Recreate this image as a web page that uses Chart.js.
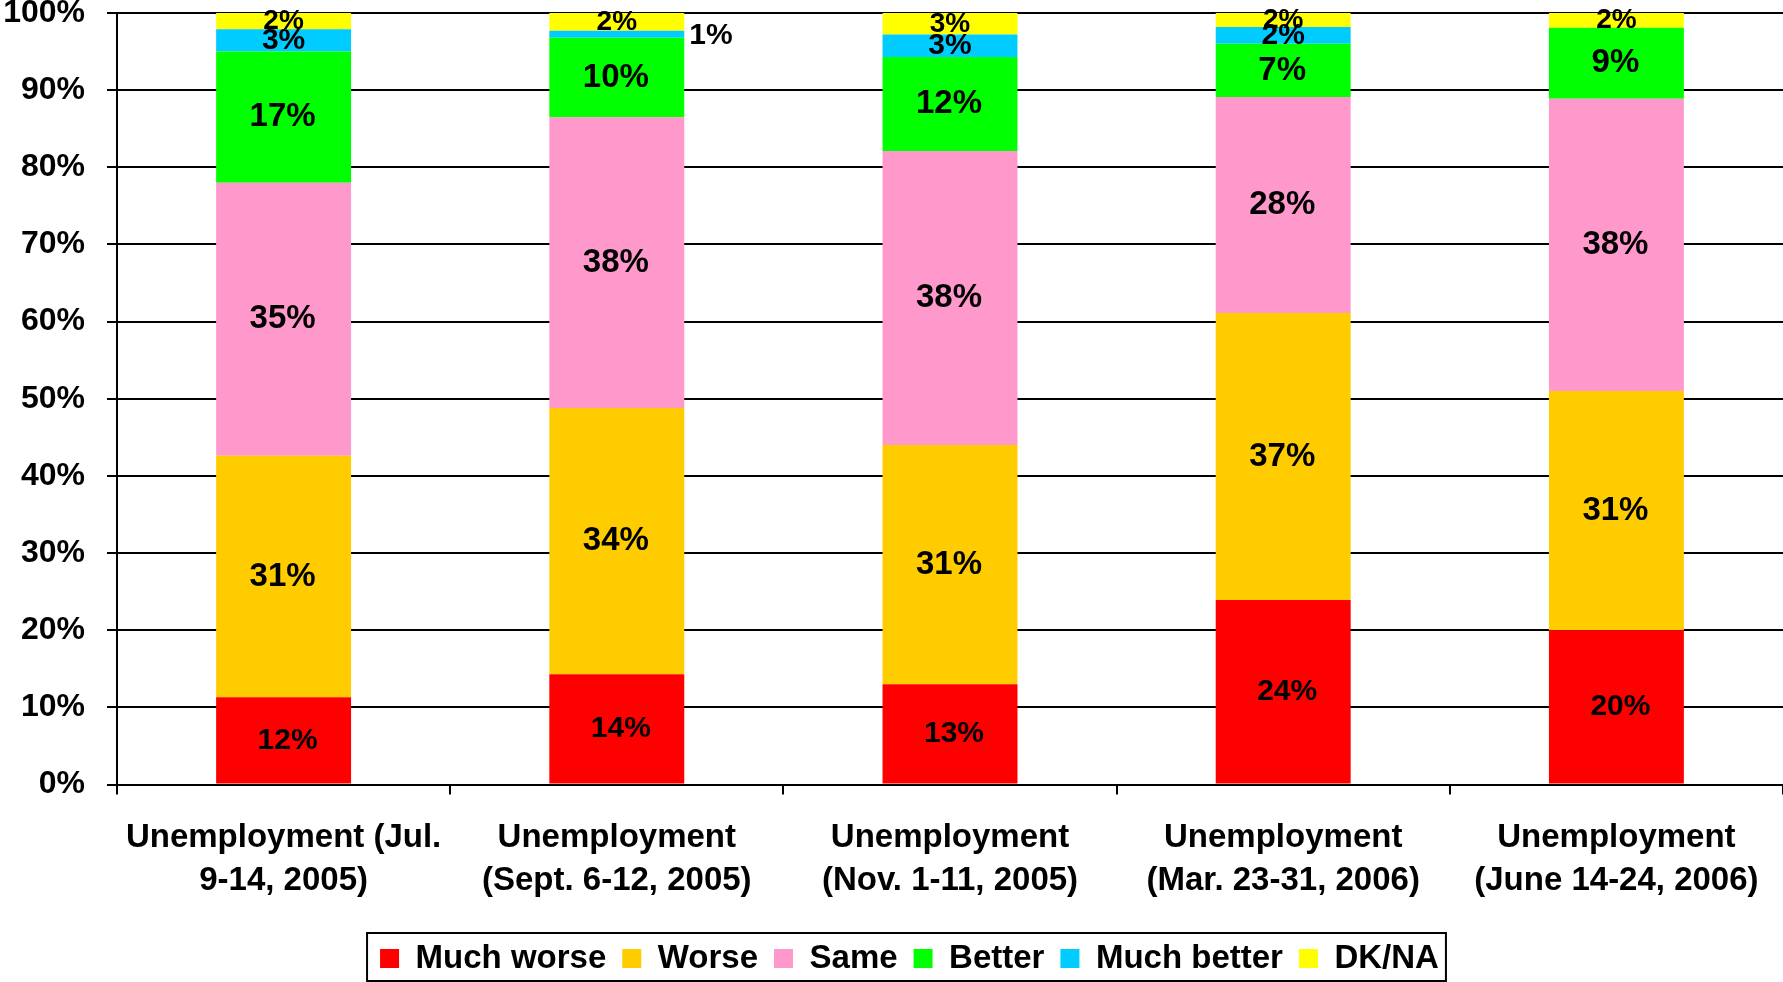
<!DOCTYPE html>
<html><head><meta charset="utf-8">
<script src="https://cdn.jsdelivr.net/npm/chart.js@4.4.1/dist/chart.umd.min.js"></script>
<style>html,body{margin:0;padding:0;background:#fff;} #wrap{width:1783px;height:982px;}</style>
</head><body><div id="wrap"><canvas id="c" width="1783" height="982"></canvas></div>
<script>
// ---- data ----
const categories = [
  ['Unemployment (Jul.', '9-14, 2005)'],
  ['Unemployment', '(Sept. 6-12, 2005)'],
  ['Unemployment', '(Nov. 1-11, 2005)'],
  ['Unemployment', '(Mar. 23-31, 2006)'],
  ['Unemployment', '(June 14-24, 2006)']
];
const seriesNames = ['Much worse', 'Worse', 'Same', 'Better', 'Much better', 'DK/NA'];
const seriesColors = ['#FF0000', '#FFCC00', '#FF99CC', '#00FF00', '#00CCFF', '#FFFF00'];

// bar segment heights (percent, as drawn)
const muchWorse  = [11.3, 14.3, 13.0, 23.9, 20.0];
const worse      = [31.3, 34.5, 31.0, 37.2, 31.0];
const same       = [35.4, 37.7, 38.1, 28.0, 37.9];
const better     = [17.0, 10.3, 12.2, 6.9, 9.2];
const muchBetter = [2.9, 0.9, 2.9, 2.2, 0];
const dkna       = [2.1, 2.3, 2.8, 1.8, 1.9];

// printed data labels (percent)
const muchWorseLabels  = [12, 14, 13, 24, 20];
const worseLabels      = [31, 34, 31, 37, 31];
const sameLabels       = [35, 38, 38, 28, 38];
const betterLabels     = [17, 10, 12, 7, 9];
const muchBetterLabels = [3, 1, 3, 2, 0];
const dknaLabels       = [2, 2, 3, 2, 2];

const yMin = 0, yMax = 100, yStep = 10;

const seriesValues = [muchWorse, worse, same, better, muchBetter, dkna];
const seriesLabels = [muchWorseLabels, worseLabels, sameLabels, betterLabels, muchBetterLabels, dknaLabels];
const labelFontSizes = [30, 33, 33, 33, 30, 28];
const labelDx = [4, -1, -1, -1, 0, 0];

const FONT = "'Liberation Sans', Arial, Helvetica, sans-serif";

const dataLabelPlugin = {
  id: 'dataLabels',
  afterDatasetsDraw(chart) {
    const ctx = chart.ctx;
    ctx.save();
    chart.data.datasets.forEach((ds, i) => {
      const meta = chart.getDatasetMeta(i);
      meta.data.forEach((el, j) => {
        const v = ds.data[j];
        const lab = seriesLabels[i][j];
        if (!v || !lab) return;
        const p = el.getProps(['x', 'y', 'base', 'width'], true);
        const cy = (p.y + p.base) / 2;
        ctx.font = 'bold ' + labelFontSizes[i] + 'px ' + FONT;
        ctx.fillStyle = '#000';
        ctx.textBaseline = 'middle';
        if (v < 1.5) {
          ctx.textAlign = 'left';
          ctx.fillText(lab + '%', p.x + p.width / 2 + 5, cy + 2);
        } else {
          ctx.textAlign = 'center';
          ctx.fillText(lab + '%', p.x + labelDx[i], cy);
        }
      });
    });
    ctx.restore();
  }
};

const legendPlugin = {
  id: 'legendFrame',
  afterLayout(chart) {
    const lg = chart.legend;
    const pad = lg.options.labels.padding;
    const dx = 18;
    lg.left += dx; lg.right += dx;
    const h = lg.height;
    lg.top = 942 - pad;
    lg.bottom = lg.top + h;
  },
  afterDraw(chart) {
    const lg = chart.legend;
    const hb = lg.legendHitBoxes;
    if (!hb || !hb.length) return;
    const first = hb[0], last = hb[hb.length - 1];
    const x0 = first.left - 13, x1 = last.left + last.width + 7;
    const y0 = first.top - 9, y1 = first.top + first.height + 6;
    const ctx = chart.ctx;
    ctx.save();
    ctx.strokeStyle = '#000';
    ctx.lineWidth = 2;
    ctx.strokeRect(x0, y0, x1 - x0, y1 - y0);
    ctx.restore();
  }
};

new Chart(document.getElementById('c'), {
  type: 'bar',
  data: {
    labels: categories,
    datasets: seriesNames.map((name, i) => ({
      label: name,
      data: seriesValues[i],
      backgroundColor: seriesColors[i],
      borderWidth: 0,
      barPercentage: 0.405,
      categoryPercentage: 1.0
    }))
  },
  options: {
    responsive: false,
    animation: false,
    devicePixelRatio: 1,
    layout: { padding: 0 },
    plugins: {
      legend: {
        position: 'bottom',
        maxHeight: 59,
        labels: {
          boxWidth: 19, boxHeight: 19, padding: 16,
          color: '#000',
          font: { family: FONT, size: 33, weight: 'bold' }
        }
      },
      tooltip: { enabled: false },
      title: { display: false }
    },
    scales: {
      x: {
        stacked: true,
        grid: { display: true, drawOnChartArea: false, drawTicks: true, tickLength: 10, color: '#000', lineWidth: 2, offset: true },
        border: { display: true, color: '#000', width: 2 },
        ticks: {
          color: '#000', padding: 22, maxRotation: 0, minRotation: 0, autoSkip: false,
          font: { family: FONT, size: 33, weight: 'bold', lineHeight: 1.3 }
        },
        afterFit(scale) {
          scale.paddingLeft = 0;
          scale.paddingRight = 0;
          scale.height = 138.5;
        }
      },
      y: {
        stacked: true,
        min: yMin, max: yMax,
        grid: { color: '#000', lineWidth: 2, tickLength: 10, drawTicks: true },
        border: { display: true, color: '#000', width: 2 },
        ticks: {
          stepSize: yStep,
          color: '#000', padding: 22,
          font: { family: FONT, size: 32, weight: 'bold', lineHeight: 0.8 },
          callback: v => v + '%'
        },
        afterFit(scale) {
          scale.paddingTop = 13;
          scale.paddingBottom = 0;
          scale.width = 117;
        }
      }
    }
  },
  plugins: [dataLabelPlugin, legendPlugin]
});
</script>
</body></html>
